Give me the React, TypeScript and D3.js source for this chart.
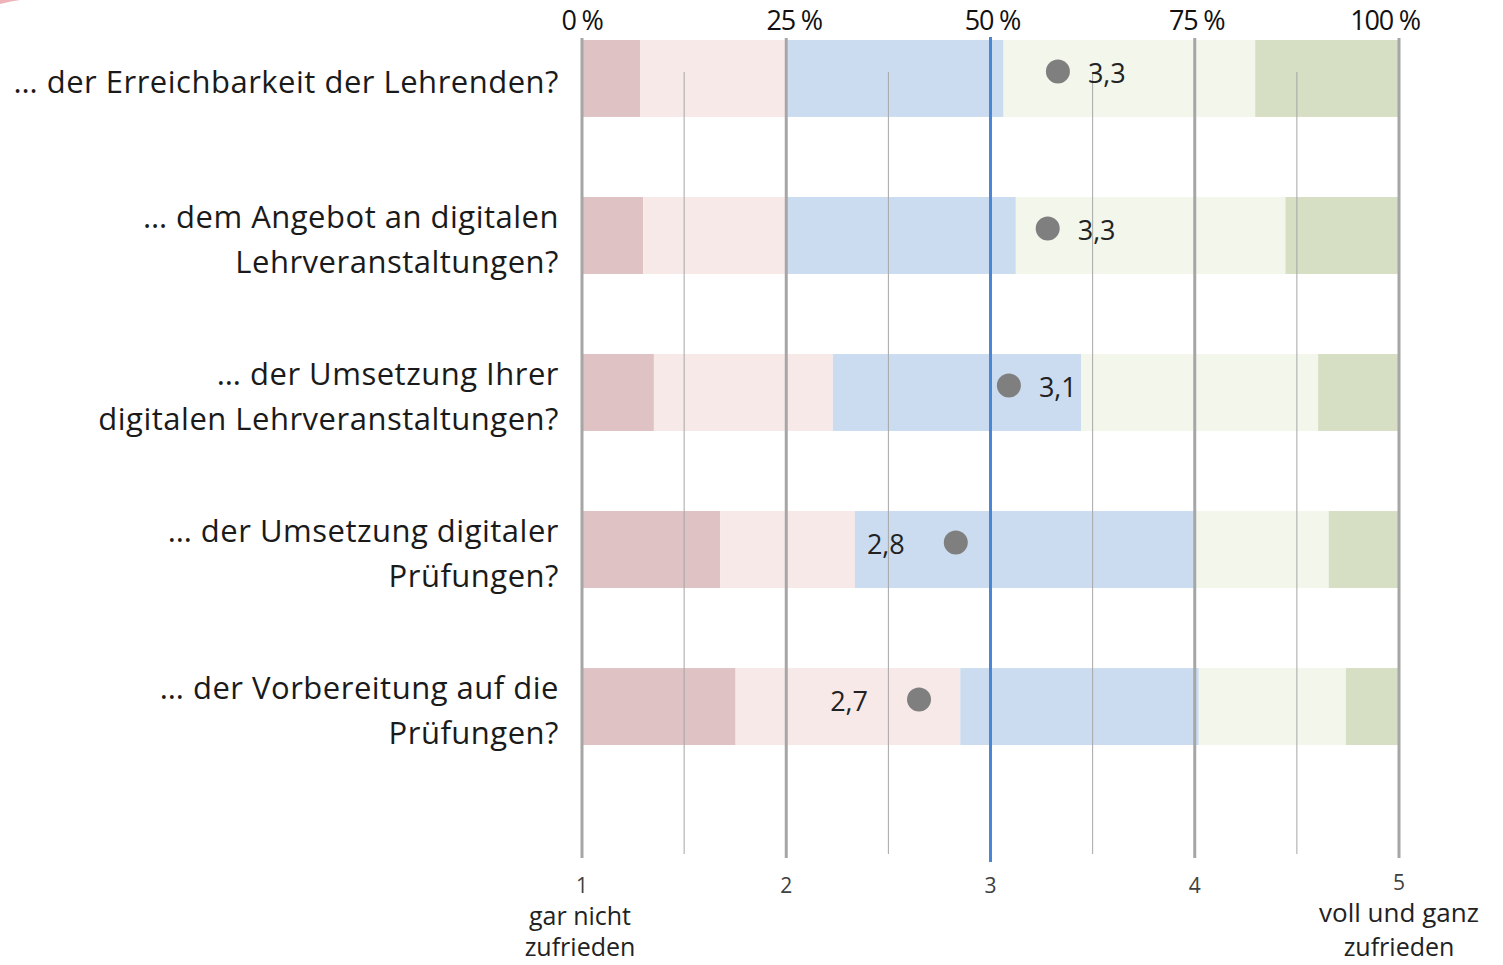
import React from "react";
import * as d3 from "d3";

const categories: string[][] = [
  ["… der Erreichbarkeit der Lehrenden?"],
  ["… dem Angebot an digitalen", "Lehrveranstaltungen?"],
  ["… der Umsetzung Ihrer", "digitalen Lehrveranstaltungen?"],
  ["… der Umsetzung digitaler", "Prüfungen?"],
  ["… der Vorbereitung auf die", "Prüfungen?"],
];

// percentage shares per answer level (1 = gar nicht ... 5 = voll und ganz)
const level1 = [7.1, 7.5, 8.8, 16.9, 18.8];
const level2 = [18.1, 17.5, 21.9, 16.5, 27.5];
const level3 = [26.4, 28.1, 30.4, 41.5, 29.2];
const level4 = [30.8, 33.0, 29.0, 16.5, 18.0];
const level5 = [17.6, 13.9, 9.9, 8.6, 6.5];

const means = [3.33, 3.28, 3.09, 2.83, 2.65];
const meanLabels = ["3,3", "3,3", "3,1", "2,8", "2,7"];
const labelSide = ["right", "right", "right", "left", "left"];

const pctTicks = [0, 25, 50, 75, 100];
const pctTickShift = [0, 8, 2, 2, -14];
const scoreTicks = [1, 2, 3, 4, 5];
const halfTicks = [1.5, 2.5, 3.5, 4.5];

const levelColors = ["#dfc2c3", "#f8e9e9", "#cbdcf1", "#f2f6eb", "#d6dfc3"];

const FONT = "'Open Sans', 'Noto Sans', sans-serif";

export default function App() {
  const W = 1503;
  const H = 965;
  const x0 = 582;
  const x1 = 1399;
  const xPct = d3.scaleLinear().domain([0, 100]).range([x0, x1]);
  const xScore = d3.scaleLinear().domain([1, 5]).range([x0, x1]);
  const idx = categories.map((_, i) => String(i));
  const y = d3
    .scaleBand<string>()
    .domain(idx)
    .range([40, 40 + 4 * 157 + 77])
    .paddingInner(0.51)
    .paddingOuter(0);

  const levels = [level1, level2, level3, level4, level5];
  const rows = categories.map((_, i) => {
    const vals = levels.map((l) => l[i]);
    const cum = d3.cumsum(vals);
    return vals.map((v, k) => ({ start: cum[k] - v, end: cum[k], k }));
  });

  const bw = y.bandwidth();

  return (
    <svg
      width={W}
      height={H}
      style={{ position: "absolute", left: 0, top: 0, background: "#fff" }}
      fontFamily={FONT}
    >
      {/* decorative arc in the top-left corner */}
      <path d="M0,4 Q12,1 20,0 L0,0 Z" fill="#e8a0a8" opacity={0.8} />

      {/* bars */}
      {rows.map((segs, i) => (
        <g key={i}>
          {segs.map((s) => (
            <rect
              key={s.k}
              x={xPct(s.start)}
              y={y(String(i))}
              width={xPct(s.end) - xPct(s.start)}
              height={bw}
              fill={levelColors[s.k]}
            />
          ))}
        </g>
      ))}

      {/* grid lines */}
      {halfTicks.map((t) => (
        <line
          key={"h" + t}
          x1={xScore(t)}
          x2={xScore(t)}
          y1={72}
          y2={854}
          stroke="#a6a6a6"
          strokeWidth={1}
        />
      ))}
      {scoreTicks
        .filter((t) => t !== 3)
        .map((t) => (
          <line
            key={"s" + t}
            x1={xScore(t)}
            x2={xScore(t)}
            y1={38}
            y2={858}
            stroke="#a6a6a6"
            strokeWidth={3}
          />
        ))}
      <line
        x1={xScore(3)}
        x2={xScore(3)}
        y1={37}
        y2={862}
        stroke="#4a86d6"
        strokeWidth={3}
      />

      {/* means */}
      {means.map((m, i) => {
        const cy = (y(String(i)) as number) + bw / 2 - 7;
        const cx = xScore(m);
        const right = labelSide[i] === "right";
        return (
          <g key={i}>
            <circle cx={cx} cy={cy} r={12} fill="#7f7f7f" />
            <text
              x={right ? cx + 30 : cx - 51}
              y={cy + 4}
              dominantBaseline="middle"
              textAnchor={right ? "start" : "end"}
              fontSize={27}
              fill="#222"
            >
              {meanLabels[i]}
            </text>
          </g>
        );
      })}

      {/* top percent labels */}
      {pctTicks.map((p, i) => (
        <text
          key={p}
          x={xPct(p) + pctTickShift[i]}
          y={30}
          textAnchor="middle"
          fontSize={27}
          fill="#111"
          letterSpacing={-1.2}
        >
          {p + " %"}
        </text>
      ))}

      {/* bottom score labels */}
      {scoreTicks.map((t) => (
        <text
          key={t}
          x={xScore(t)}
          y={t === 5 ? 890 : 893}
          textAnchor="middle"
          fontSize={21}
          fill="#404040"
        >
          {t}
        </text>
      ))}
      <text x={xScore(1) - 2} y={925} textAnchor="middle" fontSize={25} fill="#222">
        gar nicht
      </text>
      <text x={xScore(1) - 2} y={956} textAnchor="middle" fontSize={25} fill="#222">
        zufrieden
      </text>
      <text x={xScore(5)} y={922} textAnchor="middle" fontSize={26} fill="#222">
        voll und ganz
      </text>
      <text x={xScore(5)} y={956} textAnchor="middle" fontSize={25} fill="#222">
        zufrieden
      </text>

      {/* category labels */}
      {categories.map((lines, i) => {
        const cy = (y(String(i)) as number) + bw / 2;
        const n = lines.length;
        return (
          <text
            key={i}
            textAnchor="end"
            fontSize={31}
            letterSpacing={0.5}
            fill="#1a1a1a"
          >
            {lines.map((l, j) => (
              <tspan
                key={j}
                x={559}
                y={cy + (j - (n - 1) / 2) * 45 + 15}
              >
                {l}
              </tspan>
            ))}
          </text>
        );
      })}
    </svg>
  );
}
